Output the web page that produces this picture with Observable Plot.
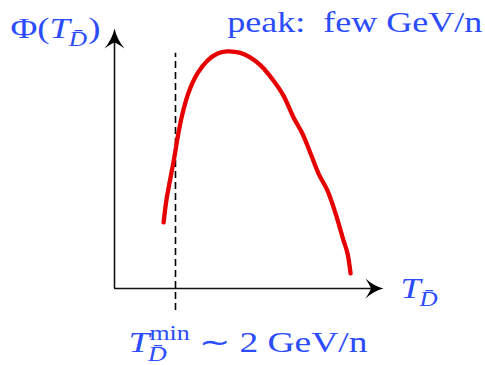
<!DOCTYPE html>
<html>
<head>
<meta charset="utf-8">
<script src="https://cdn.jsdelivr.net/npm/d3@7"></script>
<script src="https://cdn.jsdelivr.net/npm/@observablehq/plot@0.6"></script>
<style>
  html, body { margin: 0; padding: 0; background: #fff; }
  svg { display: block; }
</style>
</head>
<body>
<script>
// Schematic flux curve Φ(T) vs kinetic energy T (GeV/n)
const curveT   = [1.61, 1.70, 1.80, 1.90, 2.00, 2.07, 2.23, 2.43, 2.72, 3.05, 3.38, 3.70, 4.13, 4.46, 4.79, 5.21, 5.54, 5.87, 6.16, 6.43, 6.69, 6.98, 7.25, 7.48, 7.64, 7.74];
const curvePhi = [0.254, 0.338, 0.404, 0.465, 0.531, 0.581, 0.673, 0.754, 0.827, 0.877, 0.904, 0.912, 0.906, 0.888, 0.858, 0.800, 0.742, 0.658, 0.596, 0.519, 0.442, 0.377, 0.288, 0.196, 0.135, 0.058];
const tMin = 2;           // threshold, GeV/n
const xMax = 8.82;        // end of the T axis arrow
const yMax = 1.0;         // end of the Φ axis arrow

const BLUE = "#2b4cff";
const RED = "#e60000";
const FONT = "Liberation Serif";

const curve = curveT.map((t, i) => ({T: t, phi: curvePhi[i]}));

// stealth (LaTeX-like) filled arrowhead shape for vector marks
const stealth = {
  draw(ctx, l, r) {
    ctx.moveTo(0, -l);
    ctx.quadraticCurveTo(-r * 0.25, -l * 0.45, -r, 0);
    ctx.quadraticCurveTo(-r * 0.2, -l * 0.28, 0, -l * 0.3);
    ctx.quadraticCurveTo(r * 0.2, -l * 0.28, r, 0);
    ctx.quadraticCurveTo(r * 0.25, -l * 0.45, 0, -l);
    ctx.closePath();
  }
};

const labels = [
  {id: "phi",  x: -3.41, y: 0.965},
  {id: "peak", x: 3.70,  y: 0.985},
  {id: "tax",  x: 9.38,  y: -0.038},
  {id: "tmin", x: 0.46,  y: -0.246}
];
// target widths of the typeset labels (px), matching the wide TeX font
const labelWidth = {phi: 90, peak: 255, tax: 37, tmin: 239};

const plot = Plot.plot({
  width: 485,
  height: 365,
  marginLeft: 114,
  marginRight: 102,
  marginTop: 28,
  marginBottom: 77,
  style: {fontFamily: FONT, background: "#fff"},
  x: {domain: [0, xMax], axis: null},
  y: {domain: [0, yMax], axis: null},
  marks: [
    // axes
    Plot.ruleX([0], {y1: 0, y2: yMax * 0.95, stroke: "#111", strokeWidth: 1.6}),
    Plot.ruleY([0], {x1: 0, x2: xMax * 0.97, stroke: "#111", strokeWidth: 1.6}),
    Plot.vector([{x: 0, y: yMax}], {x: "x", y: "y", length: 20, r: 10, rotate: 0, anchor: "end", shape: stealth, fill: "#000", stroke: "none"}),
    Plot.vector([{x: xMax, y: 0}], {x: "x", y: "y", length: 18, r: 10, rotate: 90, anchor: "end", shape: stealth, fill: "#000", stroke: "none"}),
    // threshold line
    Plot.ruleX([tMin], {y1: -0.085, y2: 0.905, stroke: "#000", strokeWidth: 1.6, strokeDasharray: "7,4"}),
    // flux curve
    Plot.line(curve, {x: "T", y: "phi", curve: "catmull-rom", stroke: RED, strokeWidth: 4.3}),
    // labels (rich formatting applied afterwards)
    Plot.text(labels, {x: "x", y: "y", text: "id", textAnchor: "start", lineAnchor: "bottom", fill: BLUE, fontSize: 29})
  ]
});

document.body.appendChild(plot);

// Rich-text labels with italics, sub- and superscripts
const svgNS = "http://www.w3.org/2000/svg";
function span(parent, txt, opts = {}) {
  const t = document.createElementNS(svgNS, "tspan");
  t.textContent = txt;
  if (opts.italic) t.setAttribute("font-style", "italic");
  if (opts.size) t.setAttribute("font-size", opts.size);
  if (opts.dy) t.setAttribute("dy", opts.dy);
  if (opts.dx) t.setAttribute("dx", opts.dx);
  parent.appendChild(t);
  return t;
}
const DBAR = "D\u0304";
d3.select(plot).selectAll("text").each(function() {
  const el = this;
  const id = el.textContent;
  if (!(id in labelWidth)) return;
  el.textContent = "";
  if (id === "phi") {
    span(el, "Φ(");
    span(el, "T", {italic: true});
    span(el, DBAR, {italic: true, size: 20, dy: 8, dx: -1});
    span(el, ")", {dy: -8, dx: 1});
  } else if (id === "peak") {
    span(el, "peak:  few GeV/n");
  } else if (id === "tax") {
    span(el, "T", {italic: true});
    span(el, DBAR, {italic: true, size: 20, dy: 8, dx: -1});
  } else if (id === "tmin") {
    span(el, "T", {italic: true});
    const sub = span(el, DBAR, {italic: true, size: 20, dy: 9, dx: -1});
    const w = sub.getComputedTextLength();
    span(el, "min", {size: 20, dy: -21, dx: -w + 1});
    span(el, " ∼ 2 GeV/n", {dy: 12});
  }
  el.setAttribute("textLength", labelWidth[id]);
  el.setAttribute("lengthAdjust", "spacingAndGlyphs");
});
</script>
</body>
</html>
